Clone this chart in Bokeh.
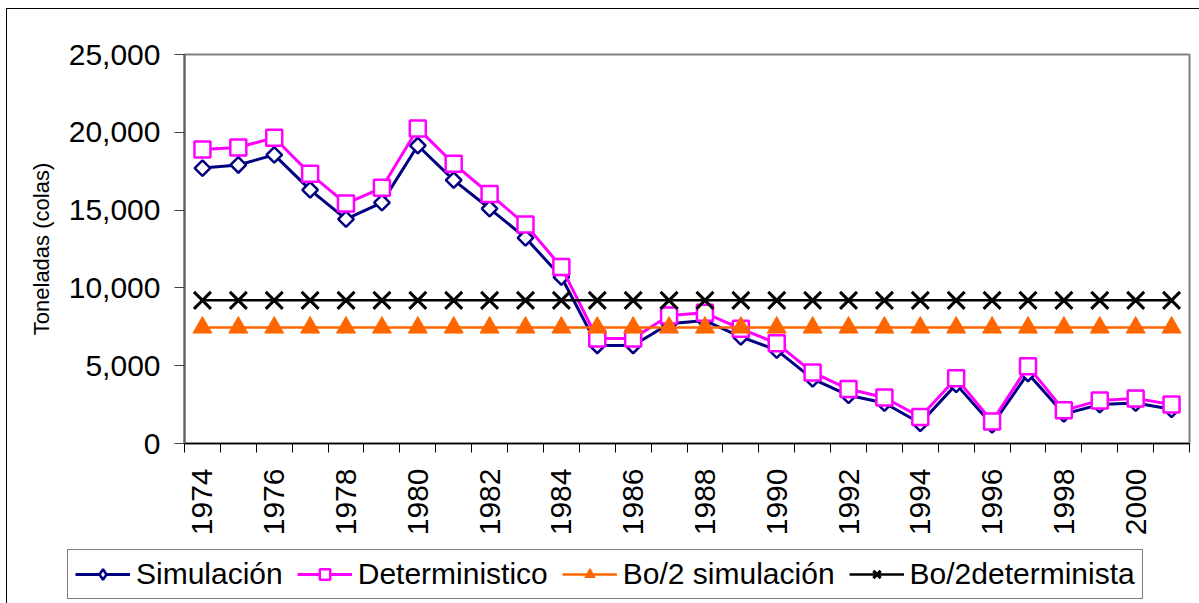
import math
from bokeh.plotting import figure
from bokeh.layouts import column
from bokeh.models import (FixedTicker, NumeralTickFormatter, Range1d, Legend, LegendItem)
from bokeh.embed import file_html
from bokeh.resources import INLINE

years = list(range(1974, 2002))
simulacion = [17700, 17900, 18550, 16300, 14420, 15480, 19150, 16930, 15100, 13220,
              10700, 6300, 6300, 7700, 7900, 6850, 6000, 4150, 3100, 2600,
              1300, 3800, 1200, 4500, 1900, 2500, 2600, 2200]
deterministico = [18900, 19030, 19650, 17330, 15420, 16430, 20250, 17980, 16040, 14070,
                  11340, 6750, 6750, 8230, 8400, 7370, 6440, 4570, 3500, 2960,
                  1700, 4190, 1420, 4960, 2130, 2770, 2900, 2510]
bo2_simulacion = [7450] * 28
bo2_determinista = [9200] * 28
y_ticks = [0, 5000, 10000, 15000, 20000, 25000]
x_label_years = list(range(1974, 2002, 2))
labels = ["Simulación", "Deterministico", "Bo/2 simulación", "Bo/2determinista"]

FONT = "Liberation Sans"

W, H = 1193, 540
p = figure(width=W, height=H, output_backend="svg", toolbar_location=None,
           x_range=Range1d(1973.5, 2001.5), y_range=Range1d(0, 25000),
           min_border_left=177, min_border_right=11, min_border_top=45, min_border_bottom=106)
p.frame_align = False
p.grid.visible = False
p.outline_line_color = "#808080"
p.outline_line_width = 2
p.background_fill_color = "white"
p.border_fill_color = "white"

# y axis
ya = p.yaxis[0]
ya.ticker = FixedTicker(ticks=y_ticks)
ya.formatter = NumeralTickFormatter(format="0,0")
ya.major_tick_out = 10
ya.major_tick_in = 0
ya.minor_tick_line_color = None
ya.major_label_standoff = 14
ya.major_label_text_font = FONT
ya.major_label_text_font_size = "30px"
ya.major_label_text_color = "black"
ya.axis_line_color = "#606060"
ya.axis_line_width = 2
ya.major_tick_line_color = "#404040"
ya.axis_label = "Toneladas (colas)"
ya.axis_label_text_font = FONT
ya.axis_label_text_font_size = "22px"
ya.axis_label_text_font_style = "normal"
ya.axis_label_text_color = "black"
ya.axis_label_standoff = 12

# x axis
xa = p.xaxis[0]
xa.ticker = FixedTicker(ticks=x_label_years,
                        minor_ticks=[y - 0.5 for y in years] + [years[-1] + 0.5])
xa.major_tick_line_color = None
xa.major_tick_out = 0
xa.major_tick_in = 0
xa.minor_tick_out = 9
xa.minor_tick_in = 0
xa.minor_tick_line_color = "black"
xa.axis_line_color = "black"
xa.axis_line_width = 1.5
xa.major_label_orientation = math.pi / 2
xa.major_label_standoff = 16
xa.major_label_text_font = FONT
xa.major_label_text_font_size = "30px"
xa.major_label_text_color = "black"

styles = [
    dict(line=dict(line_color="#000080", line_width=3),
         marker=dict(marker="square", angle=math.pi / 4, size=11,
                     line_color="#000080", fill_color="white", line_width=2.5)),
    dict(line=dict(line_color="#FF00FF", line_width=3),
         marker=dict(marker="square", size=16,
                     line_color="#FF00FF", fill_color="white", line_width=2.5)),
    dict(line=dict(line_color="#FF6600", line_width=2.5),
         marker=dict(marker="triangle", size=19,
                     line_color="#FF6600", fill_color="#FF6600", line_width=1)),
    dict(line=dict(line_color="black", line_width=2.5),
         marker=dict(marker="x", size=24, line_color="black", line_width=3)),
]
series = [simulacion, deterministico, bo2_simulacion, bo2_determinista]

for vals, st in zip(series, styles):
    p.line(years, vals, **st["line"])
    p.scatter(years, vals, **st["marker"])

# legend figure (its own frame spanning the full width)
lf = figure(width=W, height=595 - H, output_backend="svg", toolbar_location=None,
            x_range=Range1d(0, 1), y_range=Range1d(0, 1),
            min_border=0, min_border_left=0, min_border_right=0,
            min_border_top=0, min_border_bottom=0)
lf.frame_align = False
lf.axis.visible = False
lf.grid.visible = False
lf.outline_line_color = None
lf.border_fill_color = "white"
lf.background_fill_color = "white"

legend_markers = [dict(styles[0]["marker"], marker="diamond", angle=0),
                  styles[1]["marker"], styles[2]["marker"], styles[3]["marker"]]
items = []
for lab, st, mk in zip(labels, styles, legend_markers):
    rl = lf.line([-10, -9], [-10, -10], **st["line"])
    rm = lf.scatter([-10], [-10], **mk)
    items.append(LegendItem(label=lab, renderers=[rl, rm]))

legend = Legend(items=items, orientation="horizontal", location=(60, 5))
legend.label_text_font = FONT
legend.label_text_font_size = "30px"
legend.label_text_color = "black"
legend.border_line_color = "black"
legend.border_line_width = 1
legend.background_fill_color = "white"
legend.background_fill_alpha = 1
legend.glyph_width = 55
legend.glyph_height = 26
legend.label_standoff = 6
legend.spacing = 14
legend.padding = 7
legend.margin = 0
legend.label_height = 26
lf.add_layout(legend, "center")

layout = column(p, lf, spacing=0)
layout.margin = (8, 0, 0, 6)
layout.styles = {"border-left": "1px solid black", "border-top": "1px solid black",
                 "background-color": "white"}

open("out.html", "w").write(file_html(layout, INLINE))
